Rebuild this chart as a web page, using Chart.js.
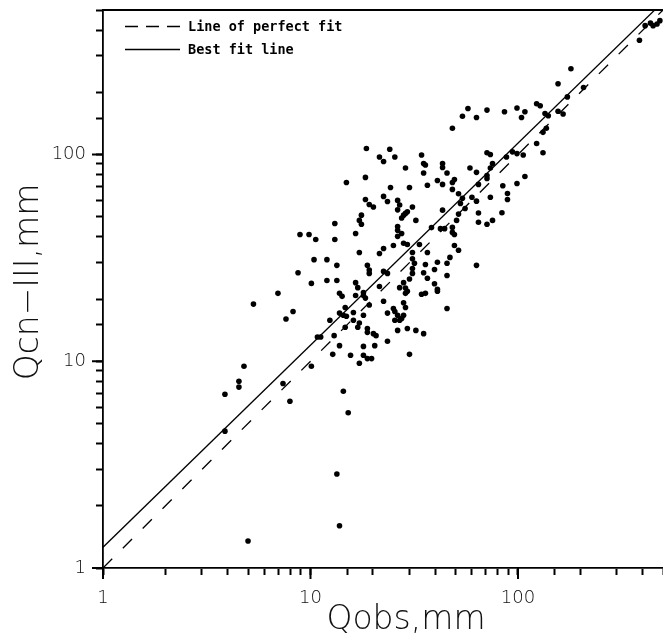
<!DOCTYPE html>
<html>
<head>
<meta charset="utf-8">
<script src="https://cdn.jsdelivr.net/npm/chart.js@4.4.0/dist/chart.umd.min.js"></script>
<style>
  html, body { margin: 0; padding: 0; background: #fff; }
  #wrap { width: 663px; height: 640px; }
</style>
</head>
<body>
<div id="wrap"><canvas id="qChart"></canvas></div>
<script>
// observed runoff (x) and CN-III computed runoff (y), mm
const obsValues = [
  3.87, 4.52, 4.52, 4.78, 3.87, 5.0, 7.37, 7.96, 10.1, 10.8, 11.2, 13.0, 13.4, 13.8, 14.4, 15.2,
  12.8, 13.8, 15.6, 17.2, 18.8, 19.7, 18.0, 18.0, 20.4, 23.5, 30.0, 26.3, 29.3, 32.2, 35.1, 25.5,
  26.9, 27.5, 26.3, 12.4, 14.7, 16.1, 17.2, 16.9, 18.8, 18.8, 20.1, 20.7, 13.8, 14.4, 14.9, 16.1,
  18.0, 14.7, 8.24, 7.62, 5.31, 6.97, 13.8, 16.5, 18.0, 18.0, 18.4, 19.2, 22.5, 23.5, 25.1, 25.5,
  28.1, 28.1, 28.7, 28.7, 34.3, 35.8, 40.9, 45.5, 26.9, 29.3, 16.5, 16.9, 21.5, 10.1, 12.0, 13.4,
  8.71, 10.4, 12.0, 13.4, 18.8, 19.2, 19.2, 22.5, 23.5, 28.1, 30.0, 31.0, 31.0, 36.6, 35.8, 31.0,
  31.7, 35.1, 39.6, 40.9, 45.5, 47.0, 45.5, 63.1, 40.9, 39.6, 17.2, 21.5, 22.5, 25.1, 28.1, 29.3,
  33.5, 36.6, 49.4, 51.7, 8.9, 9.84, 10.6, 13.1, 13.1, 16.5, 17.6, 17.2, 17.6, 26.3, 26.3, 27.5,
  26.3, 38.3, 42.3, 44.3, 48.3, 49.4, 32.2, 28.1, 29.3, 27.5, 31.0, 43.3, 51.7, 50.6, 64.5, 64.5,
  70.9, 75.4, 83.7, 18.4, 19.2, 20.1, 23.5, 22.5, 26.3, 26.9, 26.3, 51.7, 54.0, 52.8, 55.6, 14.9,
  18.4, 24.3, 30.0, 36.6, 40.9, 43.3, 48.3, 49.4, 48.3, 60.0, 63.1, 73.6, 70.9, 70.9, 64.5, 84.5,
  89.0, 89.0, 98.9, 108, 58.7, 63.1, 43.3, 43.3, 45.5, 35.1, 28.7, 35.8, 34.3, 25.5, 22.5, 24.1,
  18.6, 21.5, 70.9, 73.6, 75.4, 73.6, 88.0, 94.0, 98.9, 106, 48.3, 54.0, 57.4, 63.1, 70.9, 86.1,
  98.9, 108, 104, 123, 128, 135, 140, 156, 165, 137, 132, 123, 132, 156, 207, 173,
  180, 385, 410, 435, 448, 468, 483, 35.1, 48.3, 31.0, 14.2, 28.7, 28.7
];
const cnValues = [
  6.93, 8.0, 7.5, 9.46, 4.59, 1.35, 7.8, 6.41, 9.46, 13.1, 13.1, 13.3, 2.85, 1.60, 7.16, 5.64,
  10.8, 11.9, 10.7, 9.78, 10.3, 10.3, 10.7, 11.8, 11.9, 12.5, 10.8, 14.1, 14.4, 14.1, 13.6, 15.8,
  15.8, 16.1, 16.7, 15.8, 14.6, 15.8, 15.3, 14.6, 14.4, 13.8, 13.6, 13.3, 17.1, 16.7, 16.5, 17.2,
  16.7, 18.2, 17.4, 16.0, 18.9, 21.3, 21.3, 20.8, 20.8, 21.5, 20.2, 18.7, 19.5, 17.1, 18.0, 17.4,
  16.7, 19.2, 18.2, 21.3, 21.1, 21.3, 21.8, 18.0, 22.7, 21.8, 24.0, 22.7, 23.0, 23.8, 24.6, 24.6,
  26.8, 31.0, 31.0, 29.1, 29.1, 27.6, 26.6, 27.2, 26.6, 24.0, 25.0, 28.1, 26.6, 25.2, 29.4, 31.3,
  29.8, 26.8, 27.8, 30.1, 29.8, 31.8, 26.0, 29.1, 22.3, 23.7, 33.6, 33.2, 35.1, 36.3, 37.2, 36.7,
  36.7, 33.6, 36.3, 34.4, 41.0, 41.0, 38.8, 38.8, 46.4, 41.5, 50.9, 48.0, 46.0, 44.8, 43.0, 41.5,
  40.2, 44.3, 43.8, 43.8, 42.0, 41.0, 48.0, 50.9, 52.9, 49.3, 55.7, 53.8, 51.5, 48.0, 52.1, 47.0,
  46.0, 48.0, 52.3, 60.6, 57.3, 55.7, 59.3, 62.7, 60.0, 57.0, 54.0, 64.6, 61.4, 58.0, 54.8, 73.2,
  77.5, 69.3, 69.3, 71.0, 74.9, 71.7, 73.2, 75.7, 67.8, 62.1, 59.5, 62.1, 79.2, 76.5, 71.7, 70.6,
  64.8, 60.6, 72.4, 78.3, 86.0, 82.0, 86.5, 90.5, 81.4, 81.4, 86.0, 88.9, 99.5, 97.3, 92.5, 106,
  107, 97.3, 102, 100, 90.5, 86.0, 97.3, 103, 101, 99.5, 134, 153, 167, 151, 164, 161,
  168, 161, 151, 176, 172, 158, 154, 162, 157, 134, 128, 113, 102, 220, 211, 190,
  260, 357, 420, 432, 420, 428, 444, 90.5, 44.4, 33.6, 20.6, 22.6, 51.9
];

// reference lines (end points in mm)
const lineX = [1, 500];
const perfectFitY = [1, 500];
const bestFitY = [1.26, 547];

const tickLabels = [1, 10, 100];
const legendLabels = ["Line of perfect fit", "Best fit line"];
const xTitle = "Qobs,mm";
const yTitle = "Qcn\u2212III,mm";

const thinFont = '"DejaVu Sans", sans-serif';
const monoFont = '"DejaVu Sans Mono", monospace';

const points = obsValues.map((x, i) => ({ x: x, y: cnValues[i] }));
const perfectLine = lineX.map((x, i) => ({ x: x, y: perfectFitY[i] }));
const bestLine = lineX.map((x, i) => ({ x: x, y: bestFitY[i] }));

// longer tick marks on the decades, top frame, legend and axis titles
const decorPlugin = {
  id: "decor",
  afterDraw(chart) {
    const ctx = chart.ctx;
    const area = chart.chartArea;
    const xs = chart.scales.x;
    const ys = chart.scales.y;

    ctx.save();
    ctx.setLineDash([]);
    ctx.strokeStyle = "#000";
    ctx.lineWidth = 2;

    tickLabels.forEach((v) => {
      const px = xs.getPixelForValue(v);
      ctx.beginPath();
      ctx.moveTo(px, area.bottom);
      ctx.lineTo(px, area.bottom + 11);
      ctx.stroke();
      const py = ys.getPixelForValue(v);
      ctx.beginPath();
      ctx.moveTo(area.left, py);
      ctx.lineTo(area.left - 11, py);
      ctx.stroke();
    });

    // top frame line
    ctx.lineWidth = 1.8;
    ctx.beginPath();
    ctx.moveTo(area.left, area.top);
    ctx.lineTo(area.right, area.top);
    ctx.stroke();

    // legend
    ctx.lineWidth = 1.3;
    ctx.setLineDash([13, 8]);
    ctx.beginPath();
    ctx.moveTo(125, 26.5);
    ctx.lineTo(180, 26.5);
    ctx.stroke();
    ctx.setLineDash([]);
    ctx.beginPath();
    ctx.moveTo(125, 49.5);
    ctx.lineTo(180, 49.5);
    ctx.stroke();
    ctx.fillStyle = "#000";
    ctx.font = "bold 13.5px " + monoFont;
    ctx.textAlign = "left";
    ctx.textBaseline = "middle";
    ctx.fillText(legendLabels[0], 188, 27);
    ctx.fillText(legendLabels[1], 188, 50);

    // axis titles
    ctx.fillStyle = "#111";
    ctx.font = "200 33px " + thinFont;
    ctx.textAlign = "center";
    ctx.textBaseline = "alphabetic";
    ctx.fillText(xTitle, 406, 629);
    ctx.translate(38, 282);
    ctx.rotate(-Math.PI / 2);
    ctx.fillText(yTitle, 0, 0);
    ctx.restore();
  },
};

const tickCallback = (value) => (tickLabels.includes(value) ? String(value) : "");

new Chart(document.getElementById("qChart"), {
  type: "scatter",
  data: {
    datasets: [
      {
        label: "Observations",
        data: points,
        pointRadius: 2.8,
        pointBackgroundColor: "#000",
        pointBorderWidth: 0,
        showLine: false,
      },
      {
        label: legendLabels[0],
        data: perfectLine,
        showLine: true,
        borderColor: "#000",
        borderWidth: 1.3,
        borderDash: [13, 15],
        pointRadius: 0,
      },
      {
        label: legendLabels[1],
        data: bestLine,
        showLine: true,
        borderColor: "#000",
        borderWidth: 1.3,
        pointRadius: 0,
      },
    ],
  },
  options: {
    responsive: true,
    maintainAspectRatio: false,
    animation: false,
    layout: { autoPadding: false, padding: { top: 10, right: 0, left: 0, bottom: 0 } },
    scales: {
      x: {
        type: "logarithmic",
        position: "bottom",
        min: 1,
        max: 500,
        afterFit: (s) => {
          s.height = 72;
          s.paddingLeft = 0;
          s.paddingRight = 0;
        },
        grid: {
          drawOnChartArea: false,
          drawTicks: true,
          tickLength: 7,
          tickWidth: 2,
          tickColor: "#000",
        },
        border: { color: "#000", width: 1.8 },
        ticks: {
          autoSkip: false,
          maxRotation: 0,
          padding: 13,
          color: "#111",
          font: { family: thinFont, size: 18, weight: 200 },
          callback: tickCallback,
        },
      },
      y: {
        type: "logarithmic",
        position: "left",
        min: 1,
        max: 500,
        afterFit: (s) => {
          s.width = 103;
          s.paddingTop = 0;
          s.paddingBottom = 0;
        },
        grid: {
          drawOnChartArea: false,
          drawTicks: true,
          tickLength: 7,
          tickWidth: 2,
          tickColor: "#000",
        },
        border: { color: "#000", width: 1.8 },
        ticks: {
          autoSkip: false,
          padding: 10,
          color: "#111",
          font: { family: thinFont, size: 18, weight: 200 },
          callback: tickCallback,
        },
      },
    },
    plugins: {
      legend: { display: false },
      tooltip: { enabled: false },
      title: { display: false },
    },
  },
  plugins: [decorPlugin],
});
</script>
</body>
</html>
